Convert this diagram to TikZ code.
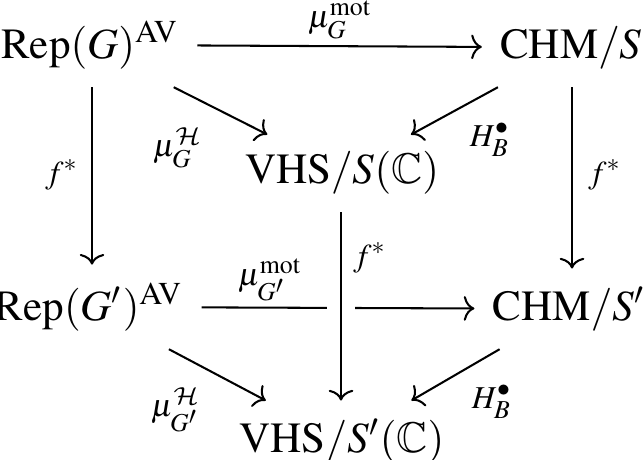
\documentclass[tikz,border=0pt]{standalone}
\usepackage[T1]{fontenc}
\usepackage{mathptmx}
\usepackage{amssymb}
\DeclareMathAlphabet{\mathcalcm}{OMS}{cmsy}{m}{n}
\usetikzlibrary{arrows.meta}
\begin{document}
\begin{tikzpicture}[x=0.2439pt,y=-0.2439pt,
  every node/.style={font=\fontsize{10.5}{13}\selectfont},
  obj/.style={anchor=base,inner sep=4.5pt,outer sep=0pt},
  lab/.style={inner sep=0pt},
  arr/.style={line width=0.5pt,-{To[length=2.6pt,width=6pt]}},
  longer/.style={shorten >=-1.2pt},
  cross/.style={preaction={draw=white,line width=7pt,-}}]
\useasboundingbox (0,0) rectangle (644,459);
\node[obj] (a) at (90,58) {$\mathrm{Rep}(G)^{\mathrm{AV}}$};
\node[obj] (b) at (571,58) {$\mathrm{CHM}/S$};
\node[obj] (c) at (342,183) {$\mathrm{VHS}/S(\mathbb{C})$};
\node[obj] (d) at (89,320) {$\mathrm{Rep}(G')^{\mathrm{AV}}$};
\node[obj] (e) at (569,320) {$\mathrm{CHM}/S'$};
\node[obj] (f) at (342,452) {$\mathrm{VHS}/S'(\mathbb{C})$};
\draw[arr] (a) -- (b);
\draw[arr] (a.south -| 92,0) -- (d.north -| 92,0);
\draw[arr] (b.south -| 572,0) -- (e.north -| 572,0);
\draw[arr,longer] (a) -- (c);
\draw[arr,longer] (b) -- (c);
\draw[arr] (d) -- (e);
\draw[arr] (d) -- (f);
\draw[arr] (e) -- (f);
\draw[arr,cross] (c.south -| 341,0) -- (f.north -| 341,0);
\node[lab] (l1) at (340,20) {$\scriptstyle\mu_G^{\mathrm{mot}}$};
\node[lab] (l2) at (62,175) {$\scriptstyle f^*$};
\node[lab] (l3) at (605,175) {$\scriptstyle f^*$};
\node[lab] (l4) at (178,148) {$\scriptstyle\mu_G^{\mathcalcm{H}}$};
\node[lab] (l5) at (490,140) {$\scriptstyle H_B^\bullet$};
\node[lab] (l6) at (370,258) {$\scriptstyle f^*$};
\node[lab] (l7) at (270,280) {$\scriptstyle\mu_{G'}^{\mathrm{mot}}$};
\node[lab] (l8) at (176,410) {$\scriptstyle\mu_{G'}^{\mathcalcm{H}}$};
\node[lab] (l9) at (492,402) {$\scriptstyle H_B^\bullet$};
\end{tikzpicture}
\end{document}
